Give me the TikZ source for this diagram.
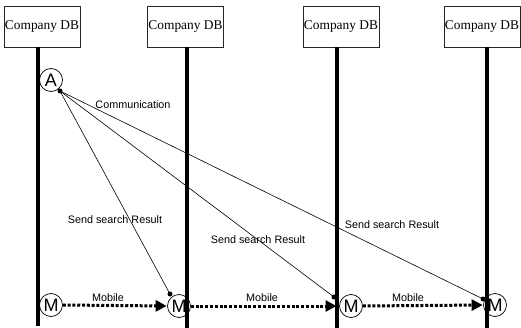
\documentclass[tikz,border=0pt]{standalone}
\usepackage{fontspec}
\setmainfont{Liberation Serif}
\newfontfamily\labelfont{Liberation Sans}
\usetikzlibrary{arrows.meta}

\begin{document}
\begin{tikzpicture}[x=1pt,y=-1pt,
  dbbox/.style={draw=black!85, line width=0.7pt, fill=white, minimum width=76pt,
    minimum height=41pt, inner sep=0pt, font=\fontsize{13.4}{15}\selectfont},
  lifeline/.style={line width=4.2pt},
  agent/.style={circle, draw, line width=0.7pt, minimum size=23pt, inner sep=0pt,
    font=\labelfont\fontsize{18}{18}\selectfont},
  msg/.style={line width=0.6pt},
  tip/.style={fill, circle, inner sep=0pt, minimum size=5pt},
  lbl/.style={font=\labelfont\fontsize{10.8}{12}\selectfont, inner sep=0pt},
  move/.style={line width=3pt, dash pattern=on 3pt off 1.8pt,
    -{Triangle[length=11pt,width=11pt]}, shorten >=0.5pt}]
  \useasboundingbox (0,0) rectangle (521,328);

  % database boxes
  \node[dbbox] (db1) at (42,26.5) {Company DB};
  \node[dbbox] (db2) at (185.5,26.5) {Company DB};
  \node[dbbox] (db3) at (341,26.5) {Company DB};
  \node[dbbox] (db4) at (482,26.5) {Company DB};

  % lifelines
  \coordinate (e1) at (38,326);
  \coordinate (e2) at (187,328);
  \coordinate (e3) at (337,328);
  \coordinate (e4) at (487,328);
  \draw[lifeline] (db1.south -| e1) -- (e1);
  \draw[lifeline] (db2.south -| e2) -- (e2);
  \draw[lifeline] (db3.south -| e3) -- (e3);
  \draw[lifeline] (db4.south -| e4) -- (e4);

  % agent and mobile instances
  \node[agent] (A) at (51,80) {A};
  \node[agent] (M1) at (51,305) {M};
  \node[agent] (M2) at (179,306) {M};
  \node[agent] (M3) at (351,306) {M};
  \node[agent] (M4) at (495,305) {M};

  % message end points
  \node[tip] (s) at (60,91) {};
  \node[tip] (r2) at (170,294) {};
  \node[tip] (r3) at (334,297) {};
  \node[tip] (r4) at (483,299) {};

  \draw[msg] (s.center) -- (r2.center);
  \draw[msg] (s.center) -- (r3.center);
  \draw[msg] (s.center) -- (r4.center);

  \node[lbl] (c) at (133,105) {Communication};
  \node[lbl] (l2) at (115,220) {Send search Result};
  \node[lbl] (l3) at (258,240) {Send search Result};
  \node[lbl] (l4) at (392,225) {Send search Result};

  % migration of the mobile agent
  \draw[move] (M1.east) -- (M2.west);
  \draw[move] (M2.east) -- (e3 |- M3);
  \draw[move] (M3.east) -- (M4.west);

  \node[lbl] (m1) at (108,298) {Mobile};
  \node[lbl] (m2) at (262,298) {Mobile};
  \node[lbl] (m3) at (408,298) {Mobile};
\end{tikzpicture}
\end{document}
